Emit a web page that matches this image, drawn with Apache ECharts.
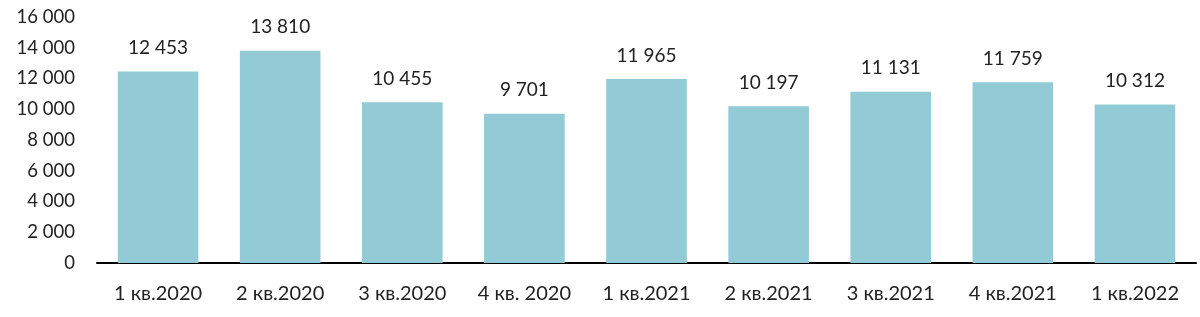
<!DOCTYPE html>
<html><head><meta charset="utf-8">
<script src="https://cdn.jsdelivr.net/npm/echarts@6/dist/echarts.min.js"></script>
<style>html,body{margin:0;padding:0;background:#fff}#c{width:1200px;height:317px}</style>
</head><body><div id="c"></div>
<script>
var categories = ['1 кв.2020','2 кв.2020','3 кв.2020','4 кв. 2020','1 кв.2021','2 кв.2021','3 кв.2021','4 кв.2021','1 кв.2022'];
var values = [12453, 13810, 10455, 9701, 11965, 10197, 11131, 11759, 10312];
function fmt(v){ return String(v).replace(/\B(?=(\d{3})+(?!\d))/g, ' '); }
var chart = echarts.init(document.getElementById('c'));
chart.setOption({
  animation:false,
  textStyle:{fontFamily:'Lato'},
  grid:{left:97, right:4, top:17, bottom:54},
  xAxis:{type:'category', data:categories,
    axisLine:{lineStyle:{color:'#000', width:2}}, axisTick:{show:false},
    axisLabel:{color:'#222', fontSize:20, margin:21, fontFamily:'Lato'}},
  yAxis:{type:'value', min:0, max:16000, interval:2000,
    axisLine:{show:false}, axisTick:{show:false}, splitLine:{show:false},
    axisLabel:{color:'#222', fontSize:18.5, margin:22, fontFamily:'Lato', formatter:fmt}},
  series:[{type:'bar', data:values, barCategoryGap:'34%',
    itemStyle:{color:'#92CBD5'},
    label:{show:true, position:'top', distance:14, color:'#222', fontSize:19, fontFamily:'Lato', formatter:function(p){return fmt(p.value);}}}]
});
</script></body></html>
